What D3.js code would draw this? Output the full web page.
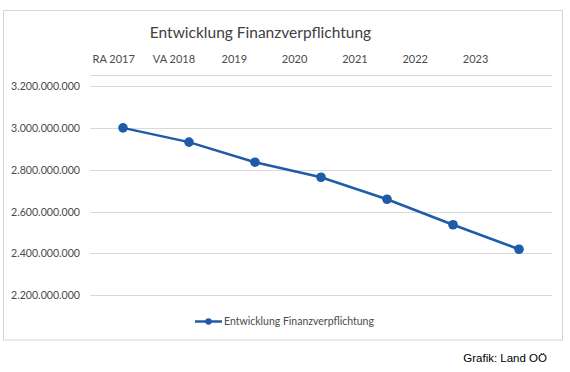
<!DOCTYPE html>
<html>
<head>
<meta charset="utf-8">
<script src="https://cdn.jsdelivr.net/npm/d3@7"></script>
<style>
  body { margin: 0; background: #fff; }
  text { font-family: Lato, "Open Sans", sans-serif; fill: #4a4a4a; }
</style>
</head>
<body>
<script>
const width = 570;
const height = 372;

// data
const categories = ["RA 2017", "VA 2018", "2019", "2020", "2021", "2022", "2023"];
const values = [3000000000, 2932000000, 2836000000, 2764000000, 2659000000, 2537000000, 2420000000];
const yTicks = [2200000000, 2400000000, 2600000000, 2800000000, 3000000000, 3200000000];
const seriesName = "Entwicklung Finanzverpflichtung";

const blue = "#1f5ca8";

const svg = d3.select("body").append("svg")
    .attr("width", width)
    .attr("height", height);

// chart frame
svg.append("rect")
    .attr("x", 3.5).attr("y", 10.5)
    .attr("width", 559).attr("height", 329.5)
    .attr("fill", "#fff")
    .attr("stroke", "#d4d4d4");

const x = d3.scaleBand()
    .domain(categories)
    .range([90, 552]);

// category labels sit a bit offset in the original picture
const xLabel = d3.scaleBand()
    .domain(categories)
    .range([83.5, 505.7]);

const y = d3.scaleLinear()
    .domain([2200000000, 3200000000])
    .range([295.3, 86]);

const fmt = v => d3.format(",")(v).replace(/,/g, ".");

// gridlines
svg.append("g")
    .selectAll("line")
    .data(yTicks)
    .enter().append("line")
    .attr("x1", 90).attr("x2", 552)
    .attr("y1", d => Math.round(y(d)) + 0.5)
    .attr("y2", d => Math.round(y(d)) + 0.5)
    .attr("stroke", "#d9d9d9");

// top category axis line
svg.append("line")
    .attr("x1", 90).attr("x2", 552)
    .attr("y1", 75.5).attr("y2", 75.5)
    .attr("stroke", "#d9d9d9");

// y labels
svg.append("g")
    .selectAll("text")
    .data(yTicks)
    .enter().append("text")
    .attr("x", 80)
    .attr("y", d => y(d) + 4)
    .attr("text-anchor", "end")
    .style("font-size", "10.6px")
    .text(fmt);

// x labels
svg.append("g")
    .selectAll("text")
    .data(categories)
    .enter().append("text")
    .attr("x", d => xLabel(d) + xLabel.bandwidth() / 2)
    .attr("y", 63)
    .attr("text-anchor", "middle")
    .style("font-size", "11px")
    .text(d => d);

// title
svg.append("text")
    .attr("x", 260.5)
    .attr("y", 38)
    .attr("text-anchor", "middle")
    .style("font-size", "15.5px")
    .style("fill", "#404040")
    .text(seriesName);

// line + markers
const line = d3.line()
    .x((d, i) => x(categories[i]) + x.bandwidth() / 2)
    .y(d => y(d));

svg.append("path")
    .datum(values)
    .attr("d", line)
    .attr("fill", "none")
    .attr("stroke", blue)
    .attr("stroke-width", 2.5);

svg.append("g")
    .selectAll("circle")
    .data(values)
    .enter().append("circle")
    .attr("cx", (d, i) => x(categories[i]) + x.bandwidth() / 2)
    .attr("cy", d => y(d))
    .attr("r", 4.8)
    .attr("fill", blue);

// legend
const lg = svg.append("g").attr("transform", "translate(195,321.5)");
lg.append("line")
    .attr("x1", 0).attr("x2", 27)
    .attr("stroke", blue).attr("stroke-width", 2.5);
lg.append("circle")
    .attr("cx", 13.5).attr("r", 3.2)
    .attr("fill", blue);
lg.append("text")
    .attr("x", 29)
    .attr("y", 3.8)
    .style("font-size", "10.5px")
    .text(seriesName);

// source
svg.append("text")
    .attr("x", 547)
    .attr("y", 362)
    .attr("text-anchor", "end")
    .style("font-family", "Liberation Sans, Arial, sans-serif")
    .style("font-size", "11.5px")
    .style("fill", "#000")
    .text("Grafik: Land OÖ");
</script>
</body>
</html>
